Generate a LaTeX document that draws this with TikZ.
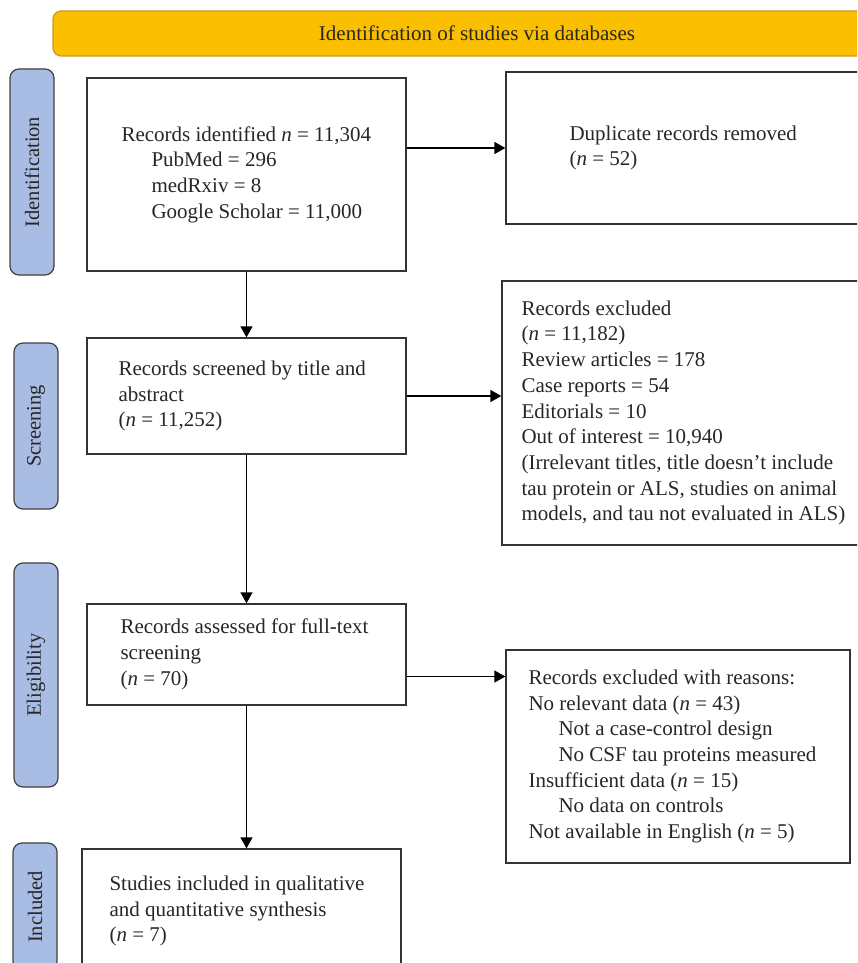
\documentclass[tikz,border=0pt]{standalone}
\usepackage{fontspec}
\setmainfont{Liberation Serif}
\usetikzlibrary{arrows.meta,positioning}
\definecolor{bannergold}{RGB}{250,192,0}
\definecolor{bannerline}{RGB}{204,153,30}
\definecolor{phaseblue}{RGB}{169,188,228}
\tikzset{
  base/.style={font=\fontsize{21}{25.7}\selectfont, text=black!85},
  flowbox/.style={rectangle, draw=black!80, line width=1.3pt, inner sep=0pt},
  boxtext/.style={base, align=left, anchor=west, inner sep=0pt},
  phase/.style={base, font=\fontsize{20.5}{24}\selectfont, rectangle, rounded corners=9pt, draw=black!75, fill=phaseblue, line width=1.2pt, rotate=90, inner sep=0pt, minimum height=44pt},
  banner/.style={base, rectangle, rounded corners=8pt, draw=bannerline, fill=bannergold, line width=1.2pt, inner sep=0pt},
  line/.style={-{Triangle[length=11pt,width=12pt]}, line width=1.3pt, draw=black}
}
\newcommand{\subindent}{\hspace*{30pt}}
\begin{document}
\begin{tikzpicture}[x=1pt, y=-1pt]
  \useasboundingbox (0,0) rectangle (857,963);
  \clip (0,0) rectangle (857,963);

  % Banner
  \node[banner, minimum width=848pt, minimum height=45pt] (head) at (477,33.5) {Identification of studies via databases};

  % Phases
  \node[phase, minimum width=206pt] (pident) at (32,172) {Identification};
  \node[phase, minimum width=166pt] (pscreen) at (36,426) {Screening};
  \node[phase, minimum width=224pt] (pelig) at (36,675) {Eligibility};
  \node[phase, minimum width=128pt] (pincl) at (35,907) {Included};

  % Boxes
  \node[flowbox, minimum width=319pt, minimum height=193pt] (ident) at (246.5,174.5) {};
  \node[boxtext] (identtxt) at ([xshift=35pt]ident.west) {Records identified \textit{n} = 11,304\\
    \subindent PubMed = 296\\
    \subindent medRxiv = 8\\
    \subindent Google Scholar = 11,000};

  \node[flowbox, minimum width=374pt, minimum height=152pt] (dup) at (693,148) {};
  \node[boxtext] (duptxt) at ([xshift=64pt]dup.west) {Duplicate records removed\\(\textit{n} = 52)};

  \node[flowbox, minimum width=319pt, minimum height=116pt] (screen) at (246.5,396) {};
  \node[boxtext] (screentxt) at ([xshift=32pt]screen.west) {Records screened by title and\\abstract\\(\textit{n} = 11,252)};

  \node[flowbox, minimum width=378pt, minimum height=264pt] (excl) at (691,413) {};
  \node[boxtext] (excltxt) at ([xshift=20pt]excl.west) {Records excluded\\
    (\textit{n} = 11,182)\\
    Review articles = 178\\
    Case reports = 54\\
    Editorials = 10\\
    Out of interest = 10,940\\
    (Irrelevant titles, title doesn’t include\\
    tau protein or ALS, studies on animal\\
    models, and tau not evaluated in ALS)};

  \node[flowbox, minimum width=319pt, minimum height=101pt] (elig) at (246.5,654.5) {};
  \node[boxtext] (eligtxt) at ([xshift=34pt]elig.west) {Records assessed for full-text\\screening\\(\textit{n} = 70)};

  \node[flowbox, minimum width=344pt, minimum height=213pt] (excltwo) at (678,756.5) {};
  \node[boxtext] (excltwotxt) at ([xshift=23pt]excltwo.west) {Records excluded with reasons:\\
    No relevant data (\textit{n} = 43)\\
    \subindent Not a case-control design\\
    \subindent No CSF tau proteins measured\\
    Insufficient data (\textit{n} = 15)\\
    \subindent No data on controls\\
    Not available in English (\textit{n} = 5)};

  \node[flowbox, minimum width=319pt, minimum height=124pt] (incl) at (241.5,911) {};
  \node[boxtext] (incltxt) at ([xshift=28pt]incl.west) {Studies included in qualitative\\and quantitative synthesis\\(\textit{n} = 7)};

  % Arrows
  \draw[line] (ident.east |- dup.west) -- (dup.west);
  \draw[line] (screen.east) -- (screen.east -| excl.west);
  \draw[line] ([yshift=-22pt]elig.east) -- ([yshift=-22pt]elig.east -| excltwo.west);
  \draw[line] (ident.south) -- (screen.north);
  \draw[line] (screen.south) -- (elig.north);
  \draw[line] (elig.south) -- (elig.south |- incl.north);
\end{tikzpicture}
\end{document}
